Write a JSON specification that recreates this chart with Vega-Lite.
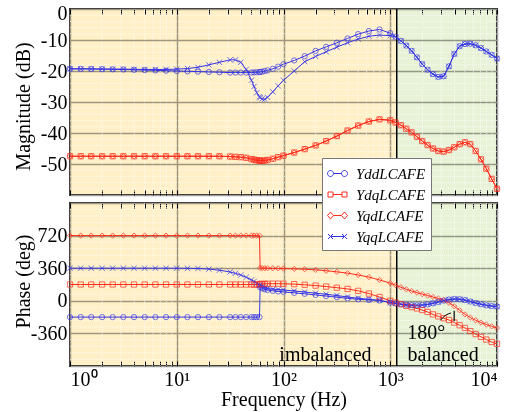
{
"$schema": "https://vega.github.io/schema/vega-lite/v6.json",
"padding": {"left": 12, "top": 2, "right": 5, "bottom": 2},
"spacing": 8,
"bounds": "flush",
"config": {
  "font": "Liberation Serif",
  "view": {"stroke": "#222222", "strokeWidth": 2, "fill": "white"},
  "axis": {"labelFont": "Liberation Serif", "labelFontSize": 20, "titleFont": "Liberation Serif", "titleFontSize": 20, "titleFontWeight": "normal", "labelColor": "black", "titleColor": "black", "domain": false},
  "axisY": {"ticks": false, "labelPadding": 3, "grid": true, "gridColor": "#a0a0a0", "gridWidth": 1.5, "titleX": -37, "titleAngle": 270, "titleBaseline": "bottom", "titleAlign": "center"},
  "legend": {"labelFont": "Liberation Serif"}
},
"datasets": {
  "series": [
{"f":1,"s":"dd","m":-19.3,"p":-180},{"f":1,"s":"dq","m":-47.5,"p":180},{"f":1,"s":"qd","m":-47.5,"p":720},{"f":1,"s":"qq","m":-19.3,"p":360},
{"f":1.26,"s":"dd","m":-19.3,"p":-180},{"f":1.26,"s":"dq","m":-47.5,"p":180},{"f":1.26,"s":"qd","m":-47.5,"p":720},{"f":1.26,"s":"qq","m":-19.3,"p":360},
{"f":1.58,"s":"dd","m":-19.35,"p":-180},{"f":1.58,"s":"dq","m":-47.5,"p":180},{"f":1.58,"s":"qd","m":-47.5,"p":720},{"f":1.58,"s":"qq","m":-19.3,"p":360},
{"f":2,"s":"dd","m":-19.4,"p":-180},{"f":2,"s":"dq","m":-47.5,"p":180},{"f":2,"s":"qd","m":-47.5,"p":720},{"f":2,"s":"qq","m":-19.35,"p":360},
{"f":2.51,"s":"dd","m":-19.45,"p":-180},{"f":2.51,"s":"dq","m":-47.5,"p":180},{"f":2.51,"s":"qd","m":-47.5,"p":720},{"f":2.51,"s":"qq","m":-19.4,"p":360},
{"f":3.16,"s":"dd","m":-19.5,"p":-180},{"f":3.16,"s":"dq","m":-47.5,"p":180},{"f":3.16,"s":"qd","m":-47.5,"p":720},{"f":3.16,"s":"qq","m":-19.4,"p":360},
{"f":3.98,"s":"dd","m":-19.6,"p":-180},{"f":3.98,"s":"dq","m":-47.5,"p":180},{"f":3.98,"s":"qd","m":-47.5,"p":720},{"f":3.98,"s":"qq","m":-19.45,"p":360},
{"f":5.01,"s":"dd","m":-19.7,"p":-180},{"f":5.01,"s":"dq","m":-47.5,"p":180},{"f":5.01,"s":"qd","m":-47.5,"p":720},{"f":5.01,"s":"qq","m":-19.5,"p":360},
{"f":6.31,"s":"dd","m":-19.8,"p":-180},{"f":6.31,"s":"dq","m":-47.5,"p":180},{"f":6.31,"s":"qd","m":-47.5,"p":720},{"f":6.31,"s":"qq","m":-19.5,"p":360},
{"f":7.94,"s":"dd","m":-19.9,"p":-180},{"f":7.94,"s":"dq","m":-47.5,"p":180},{"f":7.94,"s":"qd","m":-47.5,"p":720},{"f":7.94,"s":"qq","m":-19.5,"p":360},
{"f":10,"s":"dd","m":-20.0,"p":-180},{"f":10,"s":"dq","m":-47.5,"p":180},{"f":10,"s":"qd","m":-47.5,"p":720},{"f":10,"s":"qq","m":-19.4,"p":360},
{"f":12.6,"s":"dd","m":-20.1,"p":-180},{"f":12.6,"s":"dq","m":-47.5,"p":180},{"f":12.6,"s":"qd","m":-47.5,"p":720},{"f":12.6,"s":"qq","m":-19.2,"p":359},
{"f":15.8,"s":"dd","m":-20.2,"p":-180},{"f":15.8,"s":"dq","m":-47.5,"p":180},{"f":15.8,"s":"qd","m":-47.5,"p":720},{"f":15.8,"s":"qq","m":-18.8,"p":357},
{"f":20,"s":"dd","m":-20.3,"p":-180},{"f":20,"s":"dq","m":-47.5,"p":180},{"f":20,"s":"qd","m":-47.5,"p":720},{"f":20,"s":"qq","m":-18.0,"p":350},
{"f":25.1,"s":"dd","m":-20.4,"p":-180},{"f":25.1,"s":"dq","m":-47.5,"p":180},{"f":25.1,"s":"qd","m":-47.5,"p":720},{"f":25.1,"s":"qq","m":-17.2,"p":338},
{"f":31.6,"s":"dd","m":-20.5,"p":-180},{"f":31.6,"s":"dq","m":-47.6,"p":180},{"f":31.6,"s":"qd","m":-47.6,"p":720},{"f":31.6,"s":"qq","m":-16.4,"p":318},
{"f":35.5,"s":"dd","m":-20.5,"p":-180},{"f":35.5,"s":"dq","m":-47.7,"p":180},{"f":35.5,"s":"qd","m":-47.7,"p":720},{"f":35.5,"s":"qq","m":-16.4,"p":303},
{"f":39.8,"s":"dd","m":-20.5,"p":-180},{"f":39.8,"s":"dq","m":-47.8,"p":180},{"f":39.8,"s":"qd","m":-47.8,"p":720},{"f":39.8,"s":"qq","m":-17.2,"p":285},
{"f":44.7,"s":"dd","m":-20.5,"p":-180},{"f":44.7,"s":"dq","m":-48.0,"p":180},{"f":44.7,"s":"qd","m":-48.0,"p":720},{"f":44.7,"s":"qq","m":-19.5,"p":260},
{"f":50.1,"s":"dd","m":-20.5,"p":-180},{"f":50.1,"s":"dq","m":-48.4,"p":180},{"f":50.1,"s":"qd","m":-48.4,"p":720},{"f":50.1,"s":"qq","m":-23.0,"p":230},
{"f":53,"s":"dd","m":-20.45,"p":-180},{"f":53,"s":"dq","m":-48.6,"p":180},{"f":53,"s":"qd","m":-48.6,"p":720},{"f":53,"s":"qq","m":-25.0,"p":213},
{"f":56.2,"s":"dd","m":-20.4,"p":-180},{"f":56.2,"s":"dq","m":-48.8,"p":180},{"f":56.2,"s":"qd","m":-48.8,"p":720},{"f":56.2,"s":"qq","m":-27.0,"p":193},
{"f":59.6,"s":"dd","m":-20.35,"p":-180},{"f":59.6,"s":"dq","m":-48.9,"p":180},{"f":59.6,"s":"qd","m":-48.9,"p":720},{"f":59.6,"s":"qq","m":-28.3,"p":175},
{"f":60.4,"s":"dd","m":-20.3,"p":150},{"f":60.4,"s":"dq","m":-48.9,"p":185},{"f":60.4,"s":"qd","m":-48.9,"p":362},{"f":60.4,"s":"qq","m":-28.6,"p":170},
{"f":63.1,"s":"dd","m":-20.2,"p":138},{"f":63.1,"s":"dq","m":-49.0,"p":186},{"f":63.1,"s":"qd","m":-49.0,"p":361},{"f":63.1,"s":"qq","m":-29.0,"p":158},
{"f":66.8,"s":"dd","m":-20.0,"p":127},{"f":66.8,"s":"dq","m":-48.9,"p":187},{"f":66.8,"s":"qd","m":-48.9,"p":360},{"f":66.8,"s":"qq","m":-29.1,"p":145},
{"f":70.8,"s":"dd","m":-19.8,"p":120},{"f":70.8,"s":"dq","m":-48.7,"p":188},{"f":70.8,"s":"qd","m":-48.7,"p":360},{"f":70.8,"s":"qq","m":-28.5,"p":135},
{"f":79.4,"s":"dd","m":-19.3,"p":110},{"f":79.4,"s":"dq","m":-48.3,"p":189},{"f":79.4,"s":"qd","m":-48.3,"p":359},{"f":79.4,"s":"qq","m":-26.7,"p":128},
{"f":89.1,"s":"dd","m":-18.6,"p":103},{"f":89.1,"s":"dq","m":-47.8,"p":189},{"f":89.1,"s":"qd","m":-47.8,"p":358},{"f":89.1,"s":"qq","m":-24.8,"p":124},
{"f":100,"s":"dd","m":-17.8,"p":98},{"f":100,"s":"dq","m":-47.3,"p":188},{"f":100,"s":"qd","m":-47.3,"p":356},{"f":100,"s":"qq","m":-23.0,"p":120},
{"f":126,"s":"dd","m":-16.6,"p":88},{"f":126,"s":"dq","m":-46.3,"p":184},{"f":126,"s":"qd","m":-46.3,"p":353},{"f":126,"s":"qq","m":-20.0,"p":108},
{"f":158,"s":"dd","m":-15.2,"p":77},{"f":158,"s":"dq","m":-45.2,"p":177},{"f":158,"s":"qd","m":-45.2,"p":349},{"f":158,"s":"qq","m":-17.0,"p":97},
{"f":200,"s":"dd","m":-13.5,"p":65},{"f":200,"s":"dq","m":-44.0,"p":168},{"f":200,"s":"qd","m":-44.0,"p":342},{"f":200,"s":"qq","m":-15.3,"p":84},
{"f":251,"s":"dd","m":-12.2,"p":52},{"f":251,"s":"dq","m":-42.6,"p":157},{"f":251,"s":"qd","m":-42.6,"p":332},{"f":251,"s":"qq","m":-13.8,"p":72},
{"f":316,"s":"dd","m":-10.9,"p":40},{"f":316,"s":"dq","m":-41.0,"p":145},{"f":316,"s":"qd","m":-41.0,"p":320},{"f":316,"s":"qq","m":-12.3,"p":58},
{"f":398,"s":"dd","m":-9.5,"p":27},{"f":398,"s":"dq","m":-39.2,"p":131},{"f":398,"s":"qd","m":-39.2,"p":305},{"f":398,"s":"qq","m":-10.9,"p":42},
{"f":501,"s":"dd","m":-8.1,"p":17},{"f":501,"s":"dq","m":-37.6,"p":110},{"f":501,"s":"qd","m":-37.6,"p":285},{"f":501,"s":"qq","m":-9.7,"p":28},
{"f":631,"s":"dd","m":-7.1,"p":10},{"f":631,"s":"dq","m":-36.3,"p":80},{"f":631,"s":"qd","m":-36.3,"p":262},{"f":631,"s":"qq","m":-8.8,"p":16},
{"f":794,"s":"dd","m":-6.6,"p":3},{"f":794,"s":"dq","m":-35.6,"p":42},{"f":794,"s":"qd","m":-35.6,"p":230},{"f":794,"s":"qq","m":-8.4,"p":5},
{"f":1000,"s":"dd","m":-7.8,"p":-20},{"f":1000,"s":"dq","m":-35.9,"p":0},{"f":1000,"s":"qd","m":-35.9,"p":195},{"f":1000,"s":"qq","m":-8.6,"p":-18},
{"f":1122,"s":"dd","m":-9.0,"p":-30},{"f":1122,"s":"dq","m":-36.6,"p":-20},{"f":1122,"s":"qd","m":-36.6,"p":172},{"f":1122,"s":"qq","m":-9.0,"p":-30},
{"f":1259,"s":"dd","m":-10.3,"p":-38},{"f":1259,"s":"dq","m":-37.5,"p":-38},{"f":1259,"s":"qd","m":-37.5,"p":150},{"f":1259,"s":"qq","m":-10.3,"p":-38},
{"f":1413,"s":"dd","m":-11.8,"p":-44},{"f":1413,"s":"dq","m":-38.6,"p":-56},{"f":1413,"s":"qd","m":-38.6,"p":127},{"f":1413,"s":"qq","m":-11.8,"p":-44},
{"f":1585,"s":"dd","m":-13.5,"p":-48},{"f":1585,"s":"dq","m":-39.8,"p":-70},{"f":1585,"s":"qd","m":-39.8,"p":108},{"f":1585,"s":"qq","m":-13.5,"p":-48},
{"f":1778,"s":"dd","m":-15.6,"p":-50},{"f":1778,"s":"dq","m":-41.2,"p":-84},{"f":1778,"s":"qd","m":-41.2,"p":90},{"f":1778,"s":"qq","m":-15.6,"p":-50},
{"f":1995,"s":"dd","m":-17.8,"p":-47},{"f":1995,"s":"dq","m":-42.6,"p":-102},{"f":1995,"s":"qd","m":-42.6,"p":74},{"f":1995,"s":"qq","m":-17.8,"p":-47},
{"f":2239,"s":"dd","m":-19.6,"p":-40},{"f":2239,"s":"dq","m":-43.9,"p":-123},{"f":2239,"s":"qd","m":-43.9,"p":58},{"f":2239,"s":"qq","m":-19.6,"p":-40},
{"f":2512,"s":"dd","m":-21.0,"p":-28},{"f":2512,"s":"dq","m":-45.0,"p":-150},{"f":2512,"s":"qd","m":-45.0,"p":42},{"f":2512,"s":"qq","m":-21.0,"p":-28},
{"f":2818,"s":"dd","m":-21.9,"p":-13},{"f":2818,"s":"dq","m":-45.8,"p":-172},{"f":2818,"s":"qd","m":-45.8,"p":26},{"f":2818,"s":"qq","m":-21.9,"p":-13},
{"f":3162,"s":"dd","m":-21.7,"p":2},{"f":3162,"s":"dq","m":-46.0,"p":-192},{"f":3162,"s":"qd","m":-46.0,"p":8},{"f":3162,"s":"qq","m":-21.7,"p":2},
{"f":3548,"s":"dd","m":-18.5,"p":14},{"f":3548,"s":"dq","m":-45.5,"p":-212},{"f":3548,"s":"qd","m":-45.5,"p":-22},{"f":3548,"s":"qq","m":-18.5,"p":14},
{"f":3981,"s":"dd","m":-14.5,"p":20},{"f":3981,"s":"dq","m":-44.6,"p":-240},{"f":3981,"s":"qd","m":-44.6,"p":-60},{"f":3981,"s":"qq","m":-14.5,"p":20},
{"f":4467,"s":"dd","m":-12.0,"p":18},{"f":4467,"s":"dq","m":-43.6,"p":-270},{"f":4467,"s":"qd","m":-43.6,"p":-105},{"f":4467,"s":"qq","m":-12.0,"p":18},
{"f":5012,"s":"dd","m":-11.3,"p":8},{"f":5012,"s":"dq","m":-43.0,"p":-300},{"f":5012,"s":"qd","m":-43.0,"p":-150},{"f":5012,"s":"qq","m":-11.3,"p":8},
{"f":5623,"s":"dd","m":-11.2,"p":-8},{"f":5623,"s":"dq","m":-43.6,"p":-335},{"f":5623,"s":"qd","m":-43.6,"p":-185},{"f":5623,"s":"qq","m":-11.2,"p":-8},
{"f":6310,"s":"dd","m":-11.7,"p":-24},{"f":6310,"s":"dq","m":-45.8,"p":-367},{"f":6310,"s":"qd","m":-45.8,"p":-215},{"f":6310,"s":"qq","m":-11.7,"p":-24},
{"f":7079,"s":"dd","m":-12.6,"p":-38},{"f":7079,"s":"dq","m":-48.5,"p":-398},{"f":7079,"s":"qd","m":-48.5,"p":-240},{"f":7079,"s":"qq","m":-12.6,"p":-38},
{"f":7943,"s":"dd","m":-13.7,"p":-50},{"f":7943,"s":"dq","m":-51.5,"p":-428},{"f":7943,"s":"qd","m":-51.5,"p":-262},{"f":7943,"s":"qq","m":-13.7,"p":-50},
{"f":8913,"s":"dd","m":-14.8,"p":-58},{"f":8913,"s":"dq","m":-54.8,"p":-455},{"f":8913,"s":"qd","m":-54.8,"p":-282},{"f":8913,"s":"qq","m":-14.8,"p":-58},
{"f":10000,"s":"dd","m":-16.0,"p":-64},{"f":10000,"s":"dq","m":-58.0,"p":-475},{"f":10000,"s":"qd","m":-58.0,"p":-300},{"f":10000,"s":"qq","m":-16.0,"p":-64}
  ],
  "bg": [{"a":1,"b":1150,"region":"imbalanced"},{"a":1150,"b":10000,"region":"balanced"}],
  "sep": [{"v":1150}],
  "vminor": [{"v":2},{"v":3},{"v":4},{"v":5},{"v":6},{"v":7},{"v":8},{"v":9},{"v":20},{"v":30},{"v":40},{"v":50},{"v":60},{"v":70},{"v":80},{"v":90},{"v":200},{"v":300},{"v":400},{"v":500},{"v":600},{"v":700},{"v":800},{"v":900},{"v":2000},{"v":3000},{"v":4000},{"v":5000},{"v":6000},{"v":7000},{"v":8000},{"v":9000}],
  "hminorM": [{"v":-58},{"v":-56},{"v":-54},{"v":-52},{"v":-48},{"v":-46},{"v":-44},{"v":-42},{"v":-38},{"v":-36},{"v":-34},{"v":-32},{"v":-28},{"v":-26},{"v":-24},{"v":-22},{"v":-18},{"v":-16},{"v":-14},{"v":-12},{"v":-8},{"v":-6},{"v":-4},{"v":-2}],
  "hminorP": [{"v":-648},{"v":-576},{"v":-504},{"v":-432},{"v":-288},{"v":-216},{"v":-144},{"v":-72},{"v":72},{"v":144},{"v":216},{"v":288},{"v":432},{"v":504},{"v":576},{"v":648},{"v":792},{"v":864},{"v":936},{"v":1008}],
  "notes": [{"f":247,"p":-600,"t":"imbalanced"},{"f":3130,"p":-600,"t":"balanced"},{"f":2170,"p":-360,"t":"180°"}],
  "bar": [{"f":3970,"p":-110,"p2":-225}],
  "arrow": [{"f":2950,"p":-215,"k":1},{"f":3300,"p":-160,"k":2},{"f":3700,"p":-135,"k":3}]
},
"resolve": {"scale": {"x": "shared", "stroke": "shared", "shape": "independent", "color": "independent", "fill": "shared"}},
"vconcat": [
{
  "width": 427, "height": 186,
  "resolve": {"axis": {"x": "independent"}},
  "layer": [
    {"data": {"name": "bg"}, "mark": {"type": "rect", "blend": "multiply"},
     "encoding": {"x": {"field": "a", "type": "quantitative", "scale": {"type": "log", "domain": [1, 10000], "nice": false}, "axis": null}, "x2": {"field": "b"},
       "fill": {"field": "region", "type": "nominal", "scale": {"domain": ["imbalanced", "balanced"], "range": ["#fff0c8", "#e8f2d6"]}, "legend": null}}},
    {"data": {"name": "vminor"}, "mark": {"type": "rule", "color": "white", "strokeWidth": 1, "strokeDash": [1, 1], "opacity": 0.7},
     "encoding": {"x": {"field": "v", "type": "quantitative", "scale": {"type": "log", "domain": [1, 10000], "nice": false},
       "axis": {"orient": "top", "labels": false, "grid": false, "title": null, "ticks": true, "tickSize": -5, "tickColor": "black", "values": [1,2,3,4,5,6,7,8,9,10,20,30,40,50,60,70,80,90,100,200,300,400,500,600,700,800,900,1000,2000,3000,4000,5000,6000,7000,8000,9000,10000]}}}},
    {"data": {"name": "hminorM"}, "mark": {"type": "rule", "color": "white", "strokeWidth": 1, "strokeDash": [1, 1], "opacity": 0.7},
     "encoding": {"y": {"field": "v", "type": "quantitative", "scale": {"domain": [-60, 0], "nice": false, "zero": false},
         "axis": {"values": [-60, -50, -40, -30, -20, -10, 0], "labelExpr": "datum.value > -60 ? '' + datum.value : ''", "title": "Magnitude (dB)", "titleY": 97, "labelFlush": true, "labelFlushOffset": 6}}}},
    {"data": {"name": "sep"}, "mark": {"type": "rule", "color": "black", "strokeWidth": 1.5},
     "encoding": {"x": {"field": "v", "type": "quantitative", "scale": {"type": "log", "domain": [1, 10000], "nice": false}, "axis": null}}},
    {"data": {"name": "series"}, "mark": {"type": "line", "strokeWidth": 1},
     "encoding": {
       "x": {"field": "f", "type": "quantitative", "scale": {"type": "log", "domain": [1, 10000], "nice": false},
         "axis": {"orient": "bottom", "labels": false, "title": null, "ticks": true, "tickSize": -5, "tickColor": "black",
           "values": [1,2,3,4,5,6,7,8,9,10,20,30,40,50,60,70,80,90,100,200,300,400,500,600,700,800,900,1000,2000,3000,4000,5000,6000,7000,8000,9000,10000],
           "grid": true, "gridColor": "#a0a0a0", "gridWidth": 1.5,
           "gridOpacity": {"condition": {"test": "abs(log(datum.value)/LN10 - round(log(datum.value)/LN10)) < 0.001", "value": 1}, "value": 0}}},
       "y": {"field": "m", "type": "quantitative", "scale": {"domain": [-60, 0], "nice": false, "zero": false},
         "axis": {"values": [-60, -50, -40, -30, -20, -10, 0], "labelExpr": "datum.value > -60 ? '' + datum.value : ''", "title": "Magnitude (dB)", "titleY": 97, "labelFlush": true, "labelFlushOffset": 6}},
       "stroke": {"field": "s", "type": "nominal", "scale": {"domain": ["dd", "dq", "qd", "qq"], "range": ["#3434e6", "#ff2a1a", "#ff2a1a", "#3434e6"]}, "legend": null}}},
    {"data": {"name": "series"}, "mark": {"type": "point", "filled": false, "strokeWidth": 1, "size": 28},
     "encoding": {
       "x": {"field": "f", "type": "quantitative", "scale": {"type": "log", "domain": [1, 10000], "nice": false}, "axis": null},
       "y": {"field": "m", "type": "quantitative", "scale": {"domain": [-60, 0], "nice": false, "zero": false},
         "axis": {"values": [-60, -50, -40, -30, -20, -10, 0], "labelExpr": "datum.value > -60 ? '' + datum.value : ''", "title": "Magnitude (dB)", "titleY": 97, "labelFlush": true, "labelFlushOffset": 6}},
       "stroke": {"field": "s", "type": "nominal", "scale": {"domain": ["dd", "dq", "qd", "qq"], "range": ["#3434e6", "#ff2a1a", "#ff2a1a", "#3434e6"]}, "legend": null},
       "shape": {"field": "s", "type": "nominal", "scale": {"domain": ["dd", "dq", "qd", "qq"], "range": ["circle", "square", "diamond", "M-1,-1L1,1M-1,1L1,-1"]}, "legend": null}}}
  ]
},
{
  "width": 427, "height": 163,
  "resolve": {"axis": {"x": "independent"}, "scale": {"shape": "independent", "color": "independent"}},
  "layer": [
    {"data": {"name": "bg"}, "mark": {"type": "rect", "blend": "multiply"},
     "encoding": {"x": {"field": "a", "type": "quantitative", "scale": {"type": "log", "domain": [1, 10000], "nice": false}, "axis": null}, "x2": {"field": "b"},
       "fill": {"field": "region", "type": "nominal", "scale": {"domain": ["imbalanced", "balanced"], "range": ["#fff0c8", "#e8f2d6"]}, "legend": null}}},
    {"data": {"name": "vminor"}, "mark": {"type": "rule", "color": "white", "strokeWidth": 1, "strokeDash": [1, 1], "opacity": 0.7},
     "encoding": {"x": {"field": "v", "type": "quantitative", "scale": {"type": "log", "domain": [1, 10000], "nice": false},
       "axis": {"orient": "top", "labels": false, "grid": false, "title": null, "ticks": true, "tickSize": -5, "tickColor": "black", "values": [1,2,3,4,5,6,7,8,9,10,20,30,40,50,60,70,80,90,100,200,300,400,500,600,700,800,900,1000,2000,3000,4000,5000,6000,7000,8000,9000,10000]}}}},
    {"data": {"name": "hminorP"}, "mark": {"type": "rule", "color": "white", "strokeWidth": 1, "strokeDash": [1, 1], "opacity": 0.7},
     "encoding": {"y": {"field": "v", "type": "quantitative", "scale": {"domain": [-720, 1080], "nice": false, "zero": false},
         "axis": {"values": [-720, -360, 0, 360, 720, 1080], "labelExpr": "datum.value > -720 && datum.value < 1080 ? '' + datum.value : ''", "title": "Phase (deg)", "titleY": 78}}}},
    {"data": {"name": "sep"}, "mark": {"type": "rule", "color": "black", "strokeWidth": 1.5},
     "encoding": {"x": {"field": "v", "type": "quantitative", "scale": {"type": "log", "domain": [1, 10000], "nice": false}, "axis": null}}},
    {"data": {"name": "series"}, "mark": {"type": "line", "strokeWidth": 1},
     "encoding": {
       "x": {"field": "f", "type": "quantitative", "scale": {"type": "log", "domain": [1, 10000], "nice": false},
         "axis": {"orient": "bottom", "title": "Frequency  (Hz)", "titlePadding": 0, "ticks": true, "tickSize": -5, "tickColor": "black", "labelPadding": 8, "labelBaseline": "top",
           "values": [1,2,3,4,5,6,7,8,9,10,20,30,40,50,60,70,80,90,100,200,300,400,500,600,700,800,900,1000,2000,3000,4000,5000,6000,7000,8000,9000,10000],
           "labelExpr": "abs(log(datum.value)/LN10 - round(log(datum.value)/LN10)) < 0.001 ? '10' + ['⁰','¹','²','³','⁴'][round(log(datum.value)/LN10)] : ''",
           "grid": true, "gridColor": "#a0a0a0", "gridWidth": 1.5,
           "gridOpacity": {"condition": {"test": "abs(log(datum.value)/LN10 - round(log(datum.value)/LN10)) < 0.001", "value": 1}, "value": 0}}},
       "y": {"field": "p", "type": "quantitative", "scale": {"domain": [-720, 1080], "nice": false, "zero": false},
         "axis": {"values": [-720, -360, 0, 360, 720, 1080], "labelExpr": "datum.value > -720 && datum.value < 1080 ? '' + datum.value : ''", "title": "Phase (deg)", "titleY": 78}},
       "stroke": {"field": "s", "type": "nominal", "scale": {"domain": ["dd", "dq", "qd", "qq"], "range": ["#3434e6", "#ff2a1a", "#ff2a1a", "#3434e6"]}, "legend": null}}},
    {"data": {"name": "series"}, "mark": {"type": "point", "filled": false, "strokeWidth": 1, "size": 28},
     "encoding": {
       "x": {"field": "f", "type": "quantitative", "scale": {"type": "log", "domain": [1, 10000], "nice": false}, "axis": null},
       "y": {"field": "p", "type": "quantitative", "scale": {"domain": [-720, 1080], "nice": false, "zero": false},
         "axis": {"values": [-720, -360, 0, 360, 720, 1080], "labelExpr": "datum.value > -720 && datum.value < 1080 ? '' + datum.value : ''", "title": "Phase (deg)", "titleY": 78}},
       "stroke": {"field": "s", "type": "nominal", "scale": {"domain": ["dd", "dq", "qd", "qq"], "range": ["#3434e6", "#ff2a1a", "#ff2a1a", "#3434e6"]}, "legend": null},
       "shape": {"field": "s", "type": "nominal", "scale": {"domain": ["dd", "dq", "qd", "qq"], "range": ["circle", "square", "diamond", "M-1,-1L1,1M-1,1L1,-1"]}, "legend": null}}},
    {"data": {"name": "series"}, "mark": {"type": "point", "filled": false, "strokeWidth": 1, "size": 0},
     "encoding": {
       "x": {"field": "f", "type": "quantitative", "scale": {"type": "log", "domain": [1, 10000], "nice": false}, "axis": null},
       "y": {"field": "p", "type": "quantitative", "scale": {"domain": [-720, 1080], "nice": false, "zero": false},
         "axis": {"values": [-720, -360, 0, 360, 720, 1080], "labelExpr": "datum.value > -720 && datum.value < 1080 ? '' + datum.value : ''", "title": "Phase (deg)", "titleY": 78}},
       "color": {"field": "s", "type": "nominal", "scale": {"domain": ["dd", "dq", "qd", "qq"], "range": ["#3434e6", "#ff2a1a", "#ff2a1a", "#3434e6"]},
         "legend": {"orient": "none", "legendX": 252, "legendY": -45, "title": null, "fillColor": "white", "strokeColor": "#777777", "padding": 5, "rowPadding": 2, "symbolSize": 400, "symbolStrokeWidth": 1, "symbolOpacity": 1, "labelFontSize": 15, "labelFontStyle": "italic", "labelOffset": 8, "labelExpr": "'Y' + datum.label + 'LCAFE'"}},
       "shape": {"field": "s", "type": "nominal", "scale": {"domain": ["dd", "dq", "qd", "qq"], "range": ["M-0.4,0L0.4,0M-1,0A0.3,0.3 0 1 0 -0.4,0A0.3,0.3 0 1 0 -1,0M0.4,0A0.3,0.3 0 1 0 1,0A0.3,0.3 0 1 0 0.4,0", "M-0.45,0L0.45,0M-0.95,-0.25H-0.45V0.25H-0.95ZM0.45,-0.25H0.95V0.25H0.45Z", "M-0.4,0L0.4,0M-1,0L-0.7,-0.35L-0.4,0L-0.7,0.35ZM0.4,0L0.7,-0.35L1,0L0.7,0.35Z", "M-0.7,0L0.7,0M-0.95,-0.25L-0.45,0.25M-0.95,0.25L-0.45,-0.25M0.45,-0.25L0.95,0.25M0.45,0.25L0.95,-0.25"]},
         "legend": {"orient": "none", "legendX": 252, "legendY": -45, "title": null, "fillColor": "white", "strokeColor": "#777777", "padding": 5, "rowPadding": 2, "symbolSize": 400, "symbolStrokeWidth": 1, "symbolOpacity": 1, "labelFontSize": 15, "labelFontStyle": "italic", "labelOffset": 8, "labelExpr": "'Y' + datum.label + 'LCAFE'"}}}},
    {"data": {"name": "notes"}, "mark": {"type": "text", "font": "Liberation Serif", "fontSize": 20, "color": "black"},
     "encoding": {
       "x": {"field": "f", "type": "quantitative", "scale": {"type": "log", "domain": [1, 10000], "nice": false}, "axis": null},
       "y": {"field": "p", "type": "quantitative", "scale": {"domain": [-720, 1080], "nice": false, "zero": false},
         "axis": {"values": [-720, -360, 0, 360, 720, 1080], "labelExpr": "datum.value > -720 && datum.value < 1080 ? '' + datum.value : ''", "title": "Phase (deg)", "titleY": 78}},
       "text": {"field": "t"}}},
    {"data": {"name": "bar"}, "mark": {"type": "rule", "color": "black", "strokeWidth": 1.2},
     "encoding": {
       "x": {"field": "f", "type": "quantitative", "scale": {"type": "log", "domain": [1, 10000], "nice": false}, "axis": null},
       "y": {"field": "p", "type": "quantitative", "scale": {"domain": [-720, 1080], "nice": false, "zero": false},
         "axis": {"values": [-720, -360, 0, 360, 720, 1080], "labelExpr": "datum.value > -720 && datum.value < 1080 ? '' + datum.value : ''", "title": "Phase (deg)", "titleY": 78}},
       "y2": {"field": "p2"}}},
    {"data": {"name": "arrow"}, "mark": {"type": "line", "color": "black", "strokeWidth": 1, "interpolate": "monotone"},
     "encoding": {
       "x": {"field": "f", "type": "quantitative", "scale": {"type": "log", "domain": [1, 10000], "nice": false}, "axis": null},
       "y": {"field": "p", "type": "quantitative", "scale": {"domain": [-720, 1080], "nice": false, "zero": false},
         "axis": {"values": [-720, -360, 0, 360, 720, 1080], "labelExpr": "datum.value > -720 && datum.value < 1080 ? '' + datum.value : ''", "title": "Phase (deg)", "titleY": 78}},
       "order": {"field": "k"}}}
  ]
}
]
}
